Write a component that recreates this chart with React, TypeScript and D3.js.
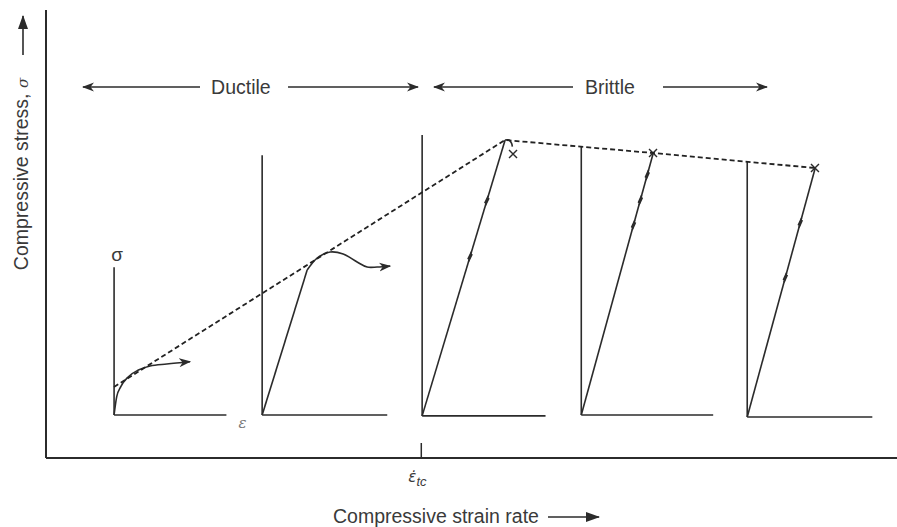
import React from 'react'
import * as d3 from 'd3'

const W = 897
const H = 527

// outer axes, arbitrary units
const rateDomain = [0, 100]
const stressDomain = [0, 100]
const transitionRate = 44.1

// one stress-strain test per strain rate (origin on the rate axis)
const panelRates = [8.0, 25.4, 44.2, 62.9, 82.4]
const panelBase = [9.6, 9.6, 9.4, 9.6, 9.15]
const panelAxisTop = [42.6, 67.6, 72.1, 69.4, 66.1]
const panelAxisLen = [13.2, 14.7, 14.5, 15.5, 14.7]

// curves as [strain offset, stress]
const curveDuctileLow = [[0, 9.6], [0.31, 13.68], [0.79, 15.92], [1.68, 18.15], [2.86, 19.64], [4.23, 20.54], [6.19, 20.98], [8.93, 21.5]]
const loadDuctileHigh = [[0, 9.6], [5.29, 41.96]]
const curveDuctileHigh = [[5.29, 41.96], [6.46, 44.64], [7.99, 45.98], [9.52, 45.54], [11.16, 43.75], [12.34, 42.63], [13.51, 42.63], [15.04, 42.86]]
const curveTransition = [[0, 9.4], [9.75, 70.98]]
const curveTransitionHook = [[9.75, 70.98], [10.2, 71.0], [10.5, 70.3], [10.6, 69.5]]
const curveBrittle1 = [[0, 9.6], [8.46, 68.08]]
const curveBrittle2 = [[0, 9.15], [7.99, 64.73]]

// failure stress envelope [rate, stress]
const envelope = [[7.99, 15.85], [53.94, 70.98], [71.33, 68.08], [90.36, 64.73]]
// fracture points [rate, stress]
const fractures = [[54.88, 67.86], [71.33, 68.08], [90.36, 64.73]]
// slip marks: [panel index, fraction along loading line]
const slipMarks = [[2, 0.577], [2, 0.78], [3, 0.725], [3, 0.82], [3, 0.916], [4, 0.56], [4, 0.78]]

// regime arrows at the top [from, to] in rate units
const regimeLabels = ['Ductile', 'Brittle']
const regimeCenters = [22.9, 66.27]
const regimeLeft = [[18.1, 4.35], [61.93, 45.59]]
const regimeRight = [[28.44, 43.71], [72.5, 84.72]]
const regimeStress = 82.8

const INK = '#2b2b2b'
const TEXT = '#3a3a3a'
const FONT = 'Liberation Sans, Arial, Helvetica, sans-serif'

export default function App () {
  const x = d3.scaleLinear().domain(rateDomain).range([46, 897])
  const y = d3.scaleLinear().domain(stressDomain).range([458, 10])

  const loading = [loadDuctileHigh, loadDuctileHigh, curveTransition, curveBrittle1, curveBrittle2]

  const smooth = d3.line().curve(d3.curveCatmullRom.alpha(0.5))
  const mono = d3.line().curve(d3.curveMonotoneX)
  const straight = d3.line()

  const toPx = (pts, rate) => pts.map(p => [x(rate + p[0]), y(p[1])])

  // little slip wiggles along the straight loading lines
  const slipPath = (panel, t) => {
    const [a, b] = toPx(loading[panel], panelRates[panel])
    const px = a[0] + (b[0] - a[0]) * t
    const py = a[1] + (b[1] - a[1]) * t
    const len = Math.hypot(b[0] - a[0], b[1] - a[1])
    const ux = (b[0] - a[0]) / len
    const uy = (b[1] - a[1]) / len
    const nx = -uy
    const ny = ux
    const pts = [
      [px - 5 * ux, py - 5 * uy],
      [px + 3 * ux + 1.3 * nx, py + 3 * uy + 1.3 * ny],
      [px - 3 * ux - 1.3 * nx, py - 3 * uy - 1.3 * ny],
      [px + 5 * ux, py + 5 * uy]
    ]
    return straight(pts)
  }

  const tcX = x(transitionRate)

  return (
    <svg width={W} height={H} style={{position: 'absolute', left: 0, top: 0, background: '#fff'}}>
      <defs>
        <marker id='ah' viewBox='0 0 12 10' refX='11' refY='5' markerWidth='12' markerHeight='10'
          markerUnits='userSpaceOnUse' orient='auto'>
          <path d='M0,0.5 L12,5 L0,9.5 L3.5,5 Z' fill={INK} />
        </marker>
        <marker id='ahBig' viewBox='0 0 14 12' refX='13' refY='6' markerWidth='14' markerHeight='12'
          markerUnits='userSpaceOnUse' orient='auto'>
          <path d='M0,1 L14,6 L0,11 Z' fill={INK} />
        </marker>
      </defs>

      {/* outer axes */}
      <line x1={x(0)} x2={x(100)} y1={y(0)} y2={y(0)} stroke={INK} strokeWidth={2} />
      <line x1={x(0)} x2={x(0)} y1={y(0)} y2={y(100)} stroke={INK} strokeWidth={2} />
      <line x1={tcX} x2={tcX} y1={y(0)} y2={y(0) - 15} stroke={INK} strokeWidth={1.5} />

      {/* axis titles */}
      <text transform={`translate(28,${(y(100) + y(0)) / 2 - 60}) rotate(-90)`} textAnchor='middle'
        fontFamily={FONT} fontSize={19.5} fill={TEXT}>
        Compressive stress, <tspan fontStyle='italic' fontFamily='DejaVu Serif, serif' fontSize={15}>σ</tspan>
      </text>
      <line x1={23} x2={23} y1={55} y2={16} stroke={INK} strokeWidth={1.6} markerEnd='url(#ahBig)' />

      <text x={333} y={523} fontFamily={FONT} fontSize={19.5} fill={TEXT}>Compressive strain rate</text>
      <line x1={548} x2={599} y1={517} y2={517} stroke={INK} strokeWidth={1.6} markerEnd='url(#ahBig)' />

      <text x={tcX - 13} y={482} fontFamily='DejaVu Sans, sans-serif' fontStyle='italic' fontSize={15} fill={TEXT}>
        {'ε\u0307'}<tspan fontFamily={FONT} fontSize={13} dy={4}>tc</tspan>
      </text>

      {/* regime arrows */}
      {regimeLabels.map((lab, i) => (
        <g key={lab}>
          <text x={x(regimeCenters[i])} y={y(regimeStress) + 7} textAnchor='middle'
            fontFamily={FONT} fontSize={19.5} fill={TEXT}>{lab}</text>
          <line x1={x(regimeLeft[i][0])} x2={x(regimeLeft[i][1])} y1={y(regimeStress)} y2={y(regimeStress)}
            stroke={INK} strokeWidth={1.6} markerEnd='url(#ah)' />
          <line x1={x(regimeRight[i][0])} x2={x(regimeRight[i][1])} y1={y(regimeStress)} y2={y(regimeStress)}
            stroke={INK} strokeWidth={1.6} markerEnd='url(#ah)' />
        </g>
      ))}

      {/* stress-strain panels */}
      {panelRates.map((r, i) => (
        <g key={'p' + i} stroke={INK} strokeWidth={1.6} fill='none'>
          <line x1={x(r)} x2={x(r)} y1={y(panelBase[i])} y2={y(panelAxisTop[i])} />
          <line x1={x(r)} x2={x(r + panelAxisLen[i])} y1={y(panelBase[i])} y2={y(panelBase[i])} />
        </g>
      ))}
      <text x={x(panelRates[0]) + 3} y={y(panelAxisTop[0]) - 6} textAnchor='middle'
        fontFamily={FONT} fontSize={19} fill={TEXT}>σ</text>
      <text x={x(panelRates[0] + panelAxisLen[0]) + 16} y={y(panelBase[0]) + 13} textAnchor='middle'
        fontFamily='DejaVu Serif, serif' fontStyle='italic' fontSize={15} fill='#777'>ε</text>

      <g fill='none' stroke={INK} strokeWidth={1.6}>
        <path d={mono(toPx(curveDuctileLow, panelRates[0]))} markerEnd='url(#ah)' />
        <path d={straight(toPx(loadDuctileHigh, panelRates[1]))} />
        <path d={smooth(toPx(curveDuctileHigh, panelRates[1]))} markerEnd='url(#ah)' />
        <path d={straight(toPx(curveTransition, panelRates[2]))} />
        <path d={smooth(toPx(curveTransitionHook, panelRates[2]))} />
        <path d={straight(toPx(curveBrittle1, panelRates[3]))} />
        <path d={straight(toPx(curveBrittle2, panelRates[4]))} />
        {slipMarks.map((s, i) => (
          <path key={'s' + i} d={slipPath(s[0], s[1])} strokeWidth={1.6} />
        ))}
        {fractures.map((f, i) => {
          const cx = x(f[0])
          const cy = y(f[1])
          return <path key={'f' + i} d={`M${cx - 4},${cy - 4}L${cx + 4},${cy + 4}M${cx - 4},${cy + 4}L${cx + 4},${cy - 4}`} strokeWidth={1.4} />
        })}
      </g>

      {/* failure envelope */}
      <path d={straight(envelope.map(p => [x(p[0]), y(p[1])]))} fill='none' stroke='#222'
        strokeWidth={1.8} strokeDasharray='5,3' />
    </svg>
  )
}
